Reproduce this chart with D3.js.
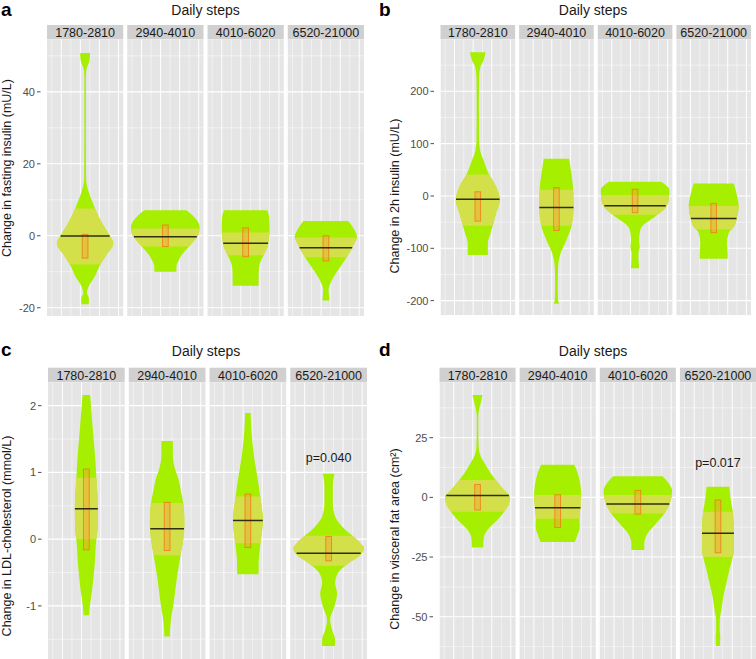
<!DOCTYPE html>
<html><head><meta charset="utf-8">
<script src="https://cdn.jsdelivr.net/npm/d3@7"></script>
<style>
body{margin:0;background:#fff}
svg{display:block;font-family:"Liberation Sans",Arial,Helvetica,sans-serif}
</style>
</head><body>
<svg id="chart" width="756" height="659"></svg>
<script>
// ---------------- DATA ----------------
const categories = ["1780-2810", "2940-4010", "4010-6020", "6520-21000"];
const facetTitle = "Daily steps";

// Panel a: fasting insulin. Violin profiles: [value, relative half-width]
const insulinProfiles = [
  [[50.8,0.13],[49,0.12],[46,0.03],[44,0.02],[30,0.02],[16,0.025],[13,0.07],[10,0.17],[7.6,0.26],[4.4,0.40],[0.6,0.61],[-2.1,0.74],[-5.8,0.53],[-8,0.40],[-11.4,0.25],[-14.2,0.09],[-16,0.05],[-17.4,0.10],[-19,0.10]],
  [[7.1,0.55],[5.3,0.75],[2.5,0.90],[0.6,0.88],[-1.2,0.77],[-3.1,0.61],[-4.9,0.46],[-6.8,0.35],[-8.6,0.29],[-10,0.29]],
  [[7.1,0.57],[5,0.62],[2,0.63],[-1,0.61],[-3.5,0.56],[-5.5,0.47],[-7.5,0.38],[-9,0.35],[-11.5,0.34],[-13.9,0.34]],
  [[4.1,0.59],[1.6,0.75],[-0.3,0.82],[-2.1,0.75],[-4.9,0.61],[-7.7,0.44],[-10.5,0.26],[-13.2,0.12],[-15.1,0.07],[-16.5,0.08],[-18,0.09]]
];
const insulinBand = [[7.6,-8],[2.0,-3.0],[0.9,-5.4],[-0.5,-6.0]];
const insulinBox = [[0.4,-6.2],[3.0,-3.0],[2.2,-5.8],[0,-7.0]];
const insulinMedian = [-0.1,-0.3,-2.1,-3.3];
const insulinTicks = [-20,0,20,40];
const insulinTickLabels = ["-20","0","20","40"];
const insulinMinor = [-10,10,30,50];

// Panel b: 2h insulin
const insulin2hProfiles = [
  [[274.5,0.21],[260,0.16],[247,0.07],[228,0.035],[183,0.03],[107,0.035],[88,0.06],[69,0.15],[43,0.29],[18,0.49],[-8,0.59],[-33,0.49],[-57,0.40],[-71,0.34],[-90,0.27],[-113,0.27]],
  [[71,0.34],[43,0.40],[12,0.45],[-20,0.46],[-59,0.40],[-84,0.27],[-110,0.11],[-135,0.045],[-167,0.035],[-199,0.045],[-206,0.07]],
  [[27,0.70],[11,0.92],[-8,0.90],[-27,0.76],[-39,0.54],[-59,0.18],[-71,0.125],[-84,0.11],[-97,0.125],[-110,0.09],[-129,0.10],[-138,0.11]],
  [[24,0.54],[5,0.61],[-20,0.67],[-36,0.64],[-59,0.54],[-71,0.40],[-90,0.36],[-110,0.375],[-120,0.375]]
];
const insulin2hBand = [[41,-57],[12,-57],[2,-36],[-19,-64]];
const insulin2hBox = [[8,-48],[16,-66],[13,-32],[-14,-70]];
const insulin2hMedian = [-6.4,-22,-18.5,-43];
const insulin2hTicks = [-200,-100,0,100,200];
const insulin2hTickLabels = ["-200","-100","0","100","200"];
const insulin2hMinor = [-150,-50,50,150,250];

// Panel c: LDL-cholesterol
const ldlProfiles = [
  [[2.16,0.10],[1.64,0.17],[1.14,0.24],[0.92,0.26],[0.49,0.30],[0.14,0.29],[0,0.26],[-0.36,0.22],[-0.76,0.15],[-1.01,0.09],[-1.14,0.07]],
  [[1.47,0.15],[1.24,0.15],[1.09,0.19],[0.89,0.30],[0.69,0.37],[0.54,0.42],[0.24,0.45],[-0.01,0.42],[-0.24,0.35],[-0.56,0.26],[-0.96,0.17],[-1.26,0.09],[-1.46,0.07]],
  [[1.89,0.07],[1.64,0.09],[1.24,0.16],[0.89,0.26],[0.64,0.32],[0.29,0.39],[-0.06,0.33],[-0.26,0.29],[-0.41,0.28],[-0.525,0.28]],
  [[0.98,0.15],[0.79,0.11],[0.54,0.11],[0.34,0.17],[0.19,0.35],[-0.06,0.83],[-0.135,0.92],[-0.26,0.78],[-0.36,0.52],[-0.51,0.24],[-0.66,0.17],[-0.81,0.22],[-1.01,0.15],[-1.21,0.04],[-1.36,0.09],[-1.51,0.17],[-1.6,0.17]]
];
const ldlBand = [[0.92,0],[0.54,-0.24],[0.64,-0.06],[0.05,-0.4]];
const ldlBox = [[1.05,-0.16],[0.55,-0.17],[0.675,-0.125],[0.04,-0.325]];
const ldlMedian = [0.455,0.155,0.28,-0.21];
const ldlTicks = [-1,0,1,2];
const ldlTickLabels = ["-1","0","1","2"];
const ldlMinor = [-1.5,-0.5,0.5,1.5];

// Panel d: visceral fat area
const vfaProfiles = [
  [[42.9,0.13],[40,0.09],[37,0.045],[34,0.02],[28,0.02],[21,0.03],[17.7,0.07],[14.2,0.19],[10,0.35],[7.3,0.48],[3,0.70],[0.3,0.85],[-2.5,0.83],[-6,0.70],[-9.5,0.52],[-13.7,0.26],[-17.2,0.16],[-21,0.15]],
  [[13.7,0.44],[10,0.53],[5.9,0.59],[1,0.62],[-3.9,0.60],[-9,0.57],[-12.3,0.58],[-15.8,0.52],[-18.7,0.45]],
  [[8.9,0.65],[5.9,0.81],[3,0.90],[-1.1,0.87],[-3.9,0.80],[-6.7,0.70],[-10.9,0.48],[-15,0.26],[-19.3,0.17],[-22,0.17]],
  [[4.5,0.30],[-2.5,0.35],[-6,0.39],[-15,0.42],[-22,0.42],[-24.9,0.39],[-30.4,0.30],[-36,0.22],[-41.6,0.14],[-47.2,0.09],[-51,0.05],[-55.6,0.045],[-58.4,0.06],[-62.3,0.05]]
];
const vfaBand = [[7.3,-6],[1,-9],[1,-6.7],[-6,-25]];
const vfaBox = [[5.4,-5.3],[1.1,-12.6],[2.9,-7],[-1.1,-23.2]];
const vfaMedian = [0.8,-4.3,-2.8,-15];
const vfaTicks = [-50,-25,0,25];
const vfaTickLabels = ["-50","-25","0","25"];
const vfaMinor = [-62.5,-37.5,-12.5,12.5,37.5];

// p-value annotations: [panel, category index, label, y value]
const annotations = [["c",3,"p=0.040",1.15],["d",3,"p=0.017",12.8]];

// ---------------- LAYOUT / STYLE ----------------
const panels = [
  {id:"a", ylab:"Change in fasting insulin (mU/L)", profiles:insulinProfiles, band:insulinBand, box:insulinBox, median:insulinMedian, ticks:insulinTicks, tickLabels:insulinTickLabels, minor:insulinMinor, domain:[-22.3,54.6],
   L:47, R:364, stripTop:25, top:39.3, bottom:316, letterX:1, letterY:16, titleX:205.5, titleY:15, ylabX:10.5, ylabY:168},
  {id:"b", ylab:"Change in 2h insulin (mU/L)", profiles:insulin2hProfiles, band:insulin2hBand, box:insulin2hBox, median:insulin2hMedian, ticks:insulin2hTicks, tickLabels:insulin2hTickLabels, minor:insulin2hMinor, domain:[-228,299.4],
   L:440.5, R:751, stripTop:25, top:39.3, bottom:315.3, letterX:379, letterY:16, titleX:593, titleY:15, ylabX:398.5, ylabY:196},
  {id:"c", ylab:"Change in LDL-cholesterol (mmol/L)", profiles:ldlProfiles, band:ldlBand, box:ldlBox, median:ldlMedian, ticks:ldlTicks, tickLabels:ldlTickLabels, minor:ldlMinor, domain:[-1.96,2.35],
   L:48, R:367, stripTop:367.7, top:382.3, bottom:670, letterX:1, letterY:356, titleX:206, titleY:355.5, ylabX:10.5, ylabY:536},
  {id:"d", ylab:"Change in visceral fat area (cm\u00B2)", profiles:vfaProfiles, band:vfaBand, box:vfaBox, median:vfaMedian, ticks:vfaTicks, tickLabels:vfaTickLabels, minor:vfaMinor, domain:[-72.3,48.2],
   L:439.5, R:756, stripTop:367.7, top:382.3, bottom:670, letterX:379, letterY:356, titleX:593, titleY:355.5, ylabX:398.5, ylabY:539}
];

const COL = {
  panel:"#E5E5E5", strip:"#D0D0D0", grid:"#FFFFFF",
  violin:"#A6EF00", band:"#D4E04A", boxFill:"#F2A630", boxStroke:"#F07A1A",
  median:"#2E2E14", text:"#1A1A1A", tick:"#4D4D4D"
};
const GAP = 4;

const svg = d3.select("#chart");

function interpW(profile, v){
  for(let i=0;i<profile.length-1;i++){
    const a=profile[i], b=profile[i+1];
    if(v<=a[0] && v>=b[0]){
      const t=(a[0]-v)/(a[0]-b[0]);
      return a[1]+(b[1]-a[1])*t;
    }
  }
  return 0;
}

panels.forEach((p, pi) => {
  const g = svg.append("g");
  const y = d3.scaleLinear().domain(p.domain).range([p.bottom, p.top]);
  const x = d3.scaleBand().domain(categories).range([p.L, p.R]).paddingInner(GAP/((p.R-p.L)/4));
  const fw = x.bandwidth();

  // Panel letter and title
  g.append("text").attr("x",p.letterX).attr("y",p.letterY).attr("font-size",19).attr("font-weight","bold").attr("fill","#000").text(p.id);
  g.append("text").attr("x",p.titleX).attr("y",p.titleY).attr("text-anchor","middle").attr("font-size",14).attr("fill",COL.text).text(facetTitle);

  // y label
  g.append("text").attr("transform",`translate(${p.ylabX},${p.ylabY}) rotate(-90)`).attr("text-anchor","middle")
    .attr("font-size",12.5).attr("fill",COL.text).text(p.ylab);

  // y axis ticks
  const yAxis = g.append("g");
  p.ticks.forEach((t,i)=>{
    yAxis.append("line").attr("x1",p.L-10).attr("x2",p.L-6.5).attr("y1",y(t)).attr("y2",y(t)).attr("stroke",COL.tick).attr("stroke-width",1);
    yAxis.append("text").attr("x",p.L-12).attr("y",y(t)).attr("dy","0.36em").attr("text-anchor","end")
      .attr("font-size",11).attr("fill",COL.tick).text(p.tickLabels[i]);
  });

  // clip for the panel area
  const clipId = "clip-"+p.id;
  svg.append("clipPath").attr("id",clipId).append("rect").attr("x",p.L).attr("y",p.top).attr("width",p.R-p.L).attr("height",p.bottom-p.top);

  categories.forEach((cat, ci) => {
    const x0 = x(cat), cx = x0 + fw/2, hw = fw/2;
    // strip
    g.append("rect").attr("x",x0).attr("y",p.stripTop).attr("width",fw).attr("height",p.top-p.stripTop).attr("fill",COL.strip);
    g.append("text").attr("x",cx).attr("y",(p.stripTop+p.top)/2).attr("dy","0.36em").attr("text-anchor","middle")
      .attr("font-size",12.5).attr("fill",COL.text).text(cat);
    // facet background
    const fg = g.append("g").attr("clip-path",`url(#${clipId})`);
    fg.append("rect").attr("x",x0).attr("y",p.top).attr("width",fw).attr("height",p.bottom-p.top).attr("fill",COL.panel);
    // horizontal gridlines
    p.minor.forEach(m=>{
      fg.append("line").attr("x1",x0).attr("x2",x0+fw).attr("y1",y(m)).attr("y2",y(m)).attr("stroke",COL.grid).attr("stroke-width",0.6).attr("opacity",0.8);
    });
    p.ticks.forEach(t=>{
      fg.append("line").attr("x1",x0).attr("x2",x0+fw).attr("y1",y(t)).attr("y2",y(t)).attr("stroke",COL.grid).attr("stroke-width",1.1);
    });
    // vertical gridlines
    d3.range(8).forEach(k=>{
      const gx = x0 + fw*(k+0.5)/8;
      fg.append("line").attr("x1",gx).attr("x2",gx).attr("y1",p.top).attr("y2",p.bottom)
        .attr("stroke",COL.grid).attr("stroke-width",k%2? 1.0:0.6).attr("opacity",k%2?0.95:0.8);
    });

    // violin
    const prof = p.profiles[ci];
    const area = d3.area().curve(d3.curveMonotoneY)
      .y(d=>y(d[0])).x0(d=>cx - d[1]*hw).x1(d=>cx + d[1]*hw);
    fg.append("path").attr("d",area(prof)).attr("fill",COL.violin);

    // band region (violin clipped to band)
    const bclip = `bclip-${p.id}-${ci}`;
    svg.append("clipPath").attr("id",bclip).append("rect").attr("x",x0).attr("width",fw)
      .attr("y",y(p.band[ci][0])).attr("height",y(p.band[ci][1])-y(p.band[ci][0]));
    fg.append("g").attr("clip-path",`url(#${bclip})`).append("path").attr("d",area(prof)).attr("fill",COL.band);

    // box
    const bw = fw*0.075;
    fg.append("rect").attr("x",cx-bw/2).attr("width",bw)
      .attr("y",y(p.box[ci][0])).attr("height",y(p.box[ci][1])-y(p.box[ci][0]))
      .attr("fill",COL.boxFill).attr("fill-opacity",0.5).attr("stroke",COL.boxStroke).attr("stroke-opacity",0.8).attr("stroke-width",1);

    // median line
    const mw = interpW(prof, p.median[ci]) * hw;
    fg.append("line").attr("x1",cx-mw).attr("x2",cx+mw).attr("y1",y(p.median[ci])).attr("y2",y(p.median[ci]))
      .attr("stroke",COL.median).attr("stroke-width",1.5);
  });

  // annotations
  annotations.filter(a=>a[0]===p.id).forEach(a=>{
    const cat = categories[a[1]];
    g.append("text").attr("x",x(cat)+fw/2).attr("y",y(a[3])).attr("text-anchor","middle")
      .attr("font-size",12.5).attr("fill",COL.text).text(a[2]);
  });
});
</script>
</body></html>
